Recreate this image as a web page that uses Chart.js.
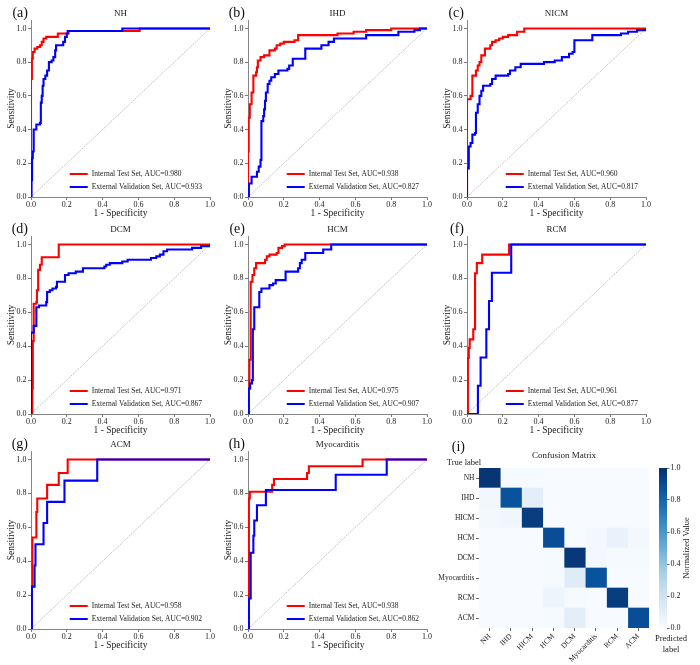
<!DOCTYPE html>
<html>
<head>
<meta charset="utf-8">
<script src="https://cdn.jsdelivr.net/npm/chart.js@4.4.0/dist/chart.umd.min.js"></script>
<style>
  html, body { margin: 0; padding: 0; background: #fff; }
  #fig { position: relative; width: 700px; height: 665px; overflow: hidden; }
  #fig canvas { position: absolute; }
</style>
</head>
<body>
<div id="fig"></div>
<script>
var FONT = '"Liberation Serif", "Times New Roman", serif';

// panels
var panelNames = ['NH', 'IHD', 'NICM', 'DCM', 'HCM', 'RCM', 'ACM', 'Myocarditis'];
var panelLetters = ['(a)', '(b)', '(c)', '(d)', '(e)', '(f)', '(g)', '(h)'];
var aucInternal = ['0.980', '0.938', '0.960', '0.971', '0.975', '0.961', '0.958', '0.938'];
var aucExternal = ['0.933', '0.827', '0.817', '0.867', '0.907', '0.877', '0.902', '0.862'];
var rocTicks = [0, 0.2, 0.4, 0.6, 0.8, 1.0];

// ROC points [fpr, tpr]: move right to fpr, then rise to tpr
var nhInternal = [[0,0],[0,0.70],[0.005,0.82],[0.01,0.86],[0.02,0.88],[0.035,0.89],[0.05,0.90],[0.06,0.92],[0.07,0.94],[0.085,0.95],[0.15,0.97],[0.21,0.985],[0.607,1],[1,1]];
var nhExternal = [[0,0],[0.003,0.10],[0.006,0.23],[0.01,0.27],[0.015,0.40],[0.03,0.43],[0.05,0.44],[0.055,0.56],[0.06,0.60],[0.065,0.66],[0.07,0.70],[0.08,0.72],[0.09,0.75],[0.1,0.80],[0.115,0.81],[0.125,0.83],[0.135,0.87],[0.14,0.90],[0.18,0.92],[0.19,0.95],[0.2,0.97],[0.205,0.985],[0.51,1],[1,1]];
var ihdInternal = [[0,0],[0,0.27],[0.004,0.47],[0.01,0.55],[0.02,0.62],[0.03,0.72],[0.045,0.74],[0.05,0.77],[0.055,0.81],[0.07,0.83],[0.09,0.84],[0.12,0.87],[0.15,0.88],[0.16,0.90],[0.18,0.91],[0.2,0.92],[0.26,0.93],[0.28,0.96],[0.5,0.97],[0.59,0.98],[0.66,0.99],[0.8,1],[1,1]];
var ihdExternal = [[0,0],[0.005,0.08],[0.02,0.12],[0.05,0.15],[0.06,0.18],[0.07,0.22],[0.075,0.45],[0.085,0.48],[0.09,0.52],[0.095,0.57],[0.1,0.62],[0.11,0.67],[0.12,0.69],[0.13,0.71],[0.15,0.73],[0.17,0.75],[0.22,0.76],[0.23,0.78],[0.25,0.82],[0.32,0.88],[0.41,0.90],[0.45,0.92],[0.48,0.94],[0.66,0.96],[0.84,0.98],[0.93,0.99],[0.96,1],[1,1]];
var nicmInternal = [[0,0],[0,0.58],[0.02,0.60],[0.03,0.72],[0.05,0.75],[0.06,0.78],[0.07,0.80],[0.08,0.84],[0.1,0.88],[0.13,0.90],[0.14,0.92],[0.16,0.93],[0.18,0.94],[0.2,0.95],[0.23,0.96],[0.28,0.98],[0.32,1],[1,1]];
var nicmExternal = [[0,0],[0,0.17],[0.01,0.30],[0.02,0.32],[0.03,0.37],[0.045,0.38],[0.05,0.50],[0.06,0.55],[0.07,0.60],[0.08,0.63],[0.09,0.66],[0.13,0.67],[0.14,0.70],[0.16,0.72],[0.23,0.73],[0.24,0.75],[0.27,0.77],[0.3,0.79],[0.43,0.80],[0.49,0.81],[0.53,0.83],[0.57,0.85],[0.59,0.86],[0.6,0.93],[0.7,0.96],[0.86,0.97],[0.9,0.98],[0.95,0.99],[1,1]];
var dcmInternal = [[0,0],[0.007,0.15],[0.01,0.43],[0.015,0.65],[0.03,0.66],[0.033,0.73],[0.04,0.85],[0.05,0.88],[0.06,0.925],[0.155,1],[1,1]];
var dcmExternal = [[0,0],[0,0.48],[0.015,0.52],[0.03,0.63],[0.045,0.64],[0.085,0.66],[0.09,0.72],[0.105,0.73],[0.12,0.74],[0.14,0.75],[0.145,0.78],[0.19,0.82],[0.21,0.83],[0.25,0.84],[0.29,0.86],[0.41,0.87],[0.42,0.88],[0.44,0.89],[0.51,0.90],[0.54,0.91],[0.67,0.92],[0.7,0.93],[0.72,0.94],[0.74,0.96],[0.76,0.97],[0.9,0.98],[0.95,0.99],[1,1]];
var hcmInternal = [[0,0],[0,0.15],[0.008,0.32],[0.015,0.78],[0.025,0.82],[0.035,0.86],[0.045,0.89],[0.095,0.91],[0.105,0.93],[0.12,0.94],[0.16,0.95],[0.17,0.98],[0.19,0.99],[0.205,1],[1,1]];
var hcmExternal = [[0,0],[0.005,0.15],[0.012,0.18],[0.022,0.20],[0.027,0.50],[0.035,0.63],[0.063,0.72],[0.075,0.74],[0.12,0.76],[0.14,0.77],[0.155,0.79],[0.21,0.84],[0.28,0.86],[0.29,0.89],[0.3,0.91],[0.32,0.95],[0.42,0.97],[0.465,1],[1,1]];
var rcmInternal = [[0,0],[0.005,0.33],[0.01,0.39],[0.015,0.44],[0.035,0.50],[0.045,0.83],[0.055,0.89],[0.085,0.94],[0.235,1],[1,1]];
var rcmExternal = [[0,0],[0.061,0.167],[0.076,0.333],[0.108,0.50],[0.123,0.667],[0.139,0.833],[0.247,1],[1,1]];
var acmInternal = [[0,0],[0.005,0.25],[0.008,0.54],[0.03,0.69],[0.035,0.77],[0.09,0.85],[0.155,0.92],[0.205,1],[1,1]];
var acmExternal = [[0,0],[0.005,0.25],[0.02,0.375],[0.025,0.5],[0.07,0.625],[0.09,0.75],[0.187,0.875],[0.37,1],[1,1]];
var myoInternal = [[0,0],[0.005,0.77],[0.01,0.81],[0.135,0.85],[0.145,0.885],[0.33,0.92],[0.34,0.96],[0.64,1],[1,1]];
var myoExternal = [[0,0],[0.005,0.18],[0.015,0.45],[0.03,0.55],[0.035,0.64],[0.05,0.73],[0.1,0.82],[0.49,0.91],[0.775,1],[1,1]];

var internalCurves = [nhInternal, ihdInternal, nicmInternal, dcmInternal, hcmInternal, rcmInternal, acmInternal, myoInternal];
var externalCurves = [nhExternal, ihdExternal, nicmExternal, dcmExternal, hcmExternal, rcmExternal, acmExternal, myoExternal];

// confusion matrix
var cmTrue = ['NH', 'IHD', 'HICM', 'HCM', 'DCM', 'Myocarditis', 'RCM', 'ACM'];
var cmPred = ['NH', 'IHD', 'HICM', 'HCM', 'DCM', 'Myocarditis', 'RCM', 'ACM'];
var cmValues = [
  [0.98, 0.01, 0.01, 0.00, 0.00, 0.00, 0.00, 0.00],
  [0.03, 0.87, 0.10, 0.00, 0.00, 0.00, 0.00, 0.00],
  [0.02, 0.04, 0.95, 0.00, 0.00, 0.00, 0.00, 0.00],
  [0.00, 0.00, 0.00, 0.89, 0.00, 0.02, 0.07, 0.02],
  [0.00, 0.00, 0.00, 0.01, 0.97, 0.02, 0.01, 0.01],
  [0.00, 0.00, 0.00, 0.01, 0.12, 0.87, 0.00, 0.00],
  [0.00, 0.00, 0.00, 0.05, 0.01, 0.00, 0.95, 0.00],
  [0.00, 0.00, 0.00, 0.01, 0.10, 0.00, 0.00, 0.89]
];
var cbarTicks = [0, 0.2, 0.4, 0.6, 0.8, 1.0];

// matplotlib "Blues"
var bluesStops = [[247,251,255],[222,235,247],[198,219,239],[158,202,225],[107,174,214],[66,146,198],[33,113,181],[8,81,156],[8,48,107]];
function blues(v) {
  v = Math.max(0, Math.min(1, v));
  var p = v * (bluesStops.length - 1);
  var i = Math.min(Math.floor(p), bluesStops.length - 2);
  var t = p - i;
  var a = bluesStops[i], b = bluesStops[i + 1];
  return 'rgb(' + [0, 1, 2].map(function(k) { return Math.round(a[k] + (b[k] - a[k]) * t); }).join(',') + ')';
}

Chart.defaults.font.family = FONT;
Chart.defaults.color = '#1a1a1a';

var fig = document.getElementById('fig');
function addCanvas(left, top, w, h) {
  var c = document.createElement('canvas');
  c.width = w; c.height = h;
  c.style.left = left + 'px'; c.style.top = top + 'px';
  c.style.width = w + 'px'; c.style.height = h + 'px';
  fig.appendChild(c);
  return c;
}

// panel letter + legend inside lower right
var rocDecor = {
  id: 'rocDecor',
  afterDraw: function(chart, args, opts) {
    var ctx = chart.ctx, area = chart.chartArea;
    ctx.save();
    ctx.fillStyle = '#111';
    ctx.font = '14px ' + FONT;
    ctx.textAlign = 'right';
    ctx.textBaseline = 'middle';
    ctx.fillText(opts.letter, area.left - 3, 13);

    var items = chart.data.datasets.filter(function(d) { return d.label; });
    ctx.font = '7.5px ' + FONT;
    var maxW = 0;
    items.forEach(function(d) { maxW = Math.max(maxW, ctx.measureText(d.label).width); });
    var x0 = area.right - 8 - maxW - 22;
    ctx.textAlign = 'left';
    items.forEach(function(d, k) {
      var y = area.bottom - 23 + 13 * k;
      ctx.strokeStyle = d.borderColor;
      ctx.lineWidth = 2;
      ctx.beginPath(); ctx.moveTo(x0, y); ctx.lineTo(x0 + 18, y); ctx.stroke();
      ctx.fillStyle = '#1a1a1a';
      ctx.fillText(d.label, x0 + 22, y);
    });
    ctx.restore();
  }
};

function toXY(arr) { return arr.map(function(p) { return {x: p[0], y: p[1]}; }); }

var colL = [31, 248, 467];
var rowT = [20, 236, 451];
var rowH = [177, 178, 178];
var plotW = 179;

panelNames.forEach(function(name, i) {
  var r = Math.floor(i / 3), c = i % 3;
  var cv = addCanvas(colL[c] - 31, rowT[r] - 20, 31 + plotW + 31, 20 + rowH[r] + 22);
  new Chart(cv, {
    type: 'line',
    data: {
      datasets: [{
        label: 'Internal Test Set, AUC=' + aucInternal[i],
        data: toXY(internalCurves[i]),
        borderColor: '#ff0000', borderWidth: 2.1, stepped: 'before', order: 2
      }, {
        label: 'External Validation Set, AUC=' + aucExternal[i],
        data: toXY(externalCurves[i]),
        borderColor: '#0000ff', borderWidth: 2.1, stepped: 'before', order: 1
      }, {
        label: '',
        data: [{x: 0, y: 0}, {x: 1, y: 1}],
        borderColor: '#a0a0a0', borderWidth: 0.7, borderDash: [1.5, 1], order: 3
      }]
    },
    options: {
      responsive: false, animation: false, events: [],
      elements: { point: { radius: 0 }, line: { tension: 0 } },
      layout: { padding: 0 },
      plugins: {
        legend: { display: false },
        tooltip: { enabled: false },
        title: {
          display: true, text: name, color: '#1a1a1a',
          font: { size: 9, weight: 'normal' },
          padding: { top: 8, bottom: 1.2 }
        },
        rocDecor: { letter: panelLetters[i] }
      },
      scales: {
        x: {
          type: 'linear', min: 0, max: 1,
          afterBuildTicks: function(s) { s.ticks = rocTicks.map(function(v) { return {value: v}; }); },
          afterFit: function(s) { s.height = 22; s.paddingLeft = 0; s.paddingRight = 31; },
          ticks: { font: { size: 8 }, padding: 0, maxRotation: 0, autoSkip: false,
                   callback: function(v) { return v.toFixed(1); } },
          grid: { display: true, drawOnChartArea: false, drawTicks: true, tickLength: 3, color: '#555', lineWidth: 0.8 },
          border: { display: true, color: '#666', width: 0.8 },
          title: { display: true, text: '1 - Specificity', font: { size: 9.5 }, padding: { top: 0, bottom: 0 } }
        },
        y: {
          type: 'linear', min: 0, max: 1.05,
          afterBuildTicks: function(s) { s.ticks = rocTicks.map(function(v) { return {value: v}; }); },
          afterFit: function(s) { s.width = 31; s.paddingTop = 0; s.paddingBottom = 0; },
          ticks: { font: { size: 8 }, padding: 1.5, autoSkip: false,
                   callback: function(v) { return v.toFixed(1); } },
          grid: { display: true, drawOnChartArea: false, drawTicks: true, tickLength: 3, color: '#555', lineWidth: 0.8 },
          border: { display: true, color: '#666', width: 0.8 },
          title: { display: true, text: 'Sensitivity', font: { size: 9.5 }, padding: { top: 6, bottom: 0 } }
        }
      }
    },
    plugins: [rocDecor]
  });
});

// confusion matrix heatmap: stacked unit bars per predicted class
var cmDecor = {
  id: 'cmDecor',
  afterDraw: function(chart) {
    var ctx = chart.ctx;
    ctx.save();
    ctx.fillStyle = '#111';
    ctx.textBaseline = 'middle';
    ctx.font = '14px ' + FONT;
    ctx.textAlign = 'right';
    ctx.fillText('(i)', 35, 11);
    ctx.font = '8.5px ' + FONT;
    ctx.textAlign = 'center';
    ctx.fillStyle = '#1a1a1a';
    ctx.fillText('True label', 34, 27);
    ctx.restore();
  }
};

var cmCanvas = addCanvas(430, 436, 49 + 170 + 49, 229);
new Chart(cmCanvas, {
  type: 'bar',
  data: {
    labels: cmTrue,
    datasets: cmPred.map(function(p, j) {
      return {
        label: p,
        data: cmTrue.map(function() { return 1; }),
        backgroundColor: cmValues.map(function(row) { return blues(row[j]); }),
        borderWidth: 0,
        barPercentage: 1, categoryPercentage: 1
      };
    })
  },
  options: {
    indexAxis: 'y',
    responsive: false, animation: false, events: [],
    layout: { padding: 0 },
    plugins: {
      legend: { display: false },
      tooltip: { enabled: false },
      title: {
        display: true, text: 'Confusion Matrix', color: '#1a1a1a',
        font: { size: 9, weight: 'normal' },
        padding: { top: 14.6, bottom: 6.6 }
      }
    },
    scales: {
      x: {
        type: 'linear', stacked: true, min: 0, max: cmPred.length,
        afterBuildTicks: function(s) { s.ticks = cmPred.map(function(_, j) { return {value: j + 0.5}; }); },
        afterFit: function(s) { s.height = 37; s.paddingLeft = 0; s.paddingRight = 49; },
        ticks: { font: { size: 7.5 }, padding: 1, autoSkip: false, minRotation: 45, maxRotation: 45,
                 callback: function(v) { return cmPred[Math.floor(v)]; } },
        grid: { display: true, drawOnChartArea: false, tickLength: 3, color: '#444', lineWidth: 0.8 },
        border: { display: false }
      },
      y: {
        stacked: true,
        afterFit: function(s) { s.width = 49; s.paddingTop = 0; s.paddingBottom = 0; },
        ticks: { font: { size: 7.5 }, padding: 1.5, autoSkip: false },
        grid: { display: true, drawOnChartArea: false, offset: false, tickLength: 3, color: '#444', lineWidth: 0.8 },
        border: { display: false }
      }
    }
  },
  plugins: [cmDecor]
});

// colorbar
var cbarDecor = {
  id: 'cbarDecor',
  afterDraw: function(chart) {
    var ctx = chart.ctx;
    ctx.save();
    ctx.fillStyle = '#1a1a1a';
    ctx.font = '8.5px ' + FONT;
    ctx.textAlign = 'center';
    ctx.textBaseline = 'middle';
    ctx.fillText('Predicted', 21, 203);
    ctx.fillText('label', 21, 214);
    ctx.translate(37, 112);
    ctx.rotate(-Math.PI / 2);
    ctx.fillText('Normalized Value', 0, 0);
    ctx.restore();
  }
};

var cbCanvas = addCanvas(650, 436, 50, 229);
new Chart(cbCanvas, {
  type: 'bar',
  data: {
    labels: [''],
    datasets: [{
      data: [[0, 1]],
      borderWidth: 0,
      barPercentage: 1, categoryPercentage: 1,
      backgroundColor: function(ctx) {
        var area = ctx.chart.chartArea;
        if (!area) return blues(0.5);
        var g = ctx.chart.ctx.createLinearGradient(0, area.bottom, 0, area.top);
        bluesStops.forEach(function(s, k) {
          g.addColorStop(k / (bluesStops.length - 1), 'rgb(' + s.join(',') + ')');
        });
        return g;
      }
    }]
  },
  options: {
    responsive: false, animation: false, events: [],
    layout: { padding: { left: 9, top: 32, bottom: 37, right: 0 } },
    plugins: { legend: { display: false }, tooltip: { enabled: false } },
    scales: {
      x: { display: false },
      y: {
        position: 'right', min: 0, max: 1,
        afterBuildTicks: function(s) { s.ticks = cbarTicks.map(function(v) { return {value: v}; }); },
        afterFit: function(s) { s.width = 33; s.paddingTop = 0; s.paddingBottom = 0; },
        ticks: { font: { size: 8 }, padding: 1, callback: function(v) { return v.toFixed(1); } },
        grid: { display: true, drawOnChartArea: false, tickLength: 2.5, color: '#444', lineWidth: 0.8 },
        border: { display: false }
      }
    }
  },
  plugins: [cbarDecor]
});
</script>
</body>
</html>
